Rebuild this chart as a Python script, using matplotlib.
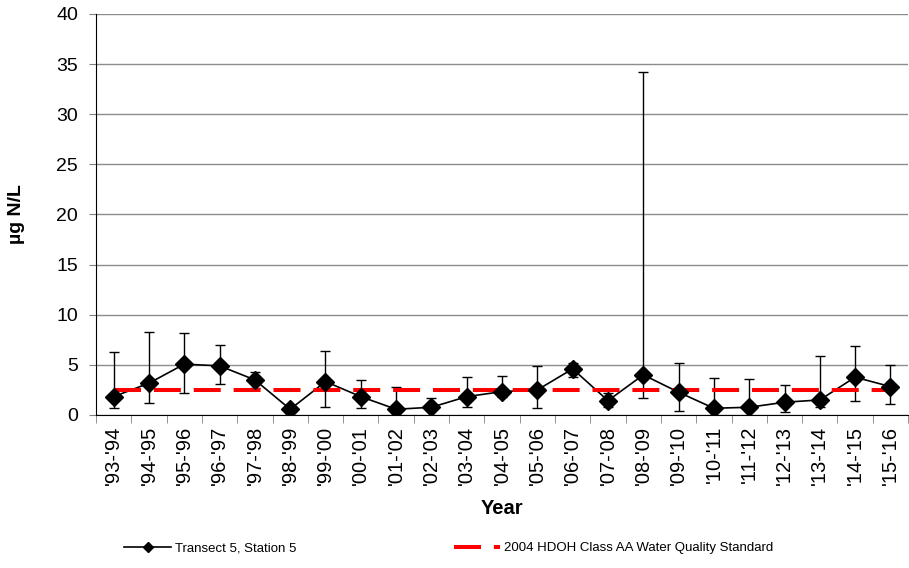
import numpy as np
import matplotlib.pyplot as plt
from matplotlib.lines import Line2D
from matplotlib.ticker import MultipleLocator, FixedLocator

plt.rcParams['font.family'] = ['Liberation Sans', 'DejaVu Sans']

years = ["'93-'94", "'94-'95", "'95-'96", "'96-'97", "'97-'98", "'98-'99",
         "'99-'00", "'00-'01", "'01-'02", "'02-'03", "'03-'04", "'04-'05",
         "'05-'06", "'06-'07", "'07-'08", "'08-'09", "'09-'10", "'10-'11",
         "'11-'12", "'12-'13", "'13-'14", "'14-'15", "'15-'16"]
vals = [1.83, 3.17, 5.07, 4.9, 3.5, 0.57, 3.33, 1.83, 0.57, 0.77, 1.83, 2.33,
        2.5, 4.6, 1.43, 4.0, 2.27, 0.67, 0.77, 1.27, 1.5, 3.77, 2.83]
lows = [0.67, 1.23, 2.23, 3.07, 2.7, 0.57, 0.83, 0.67, 0.45, 0.5, 0.77, 1.77,
        0.73, 3.8, 0.8, 1.73, 0.4, 0.35, 0.5, 0.27, 0.77, 1.4, 1.07]
highs = [6.33, 8.27, 8.17, 7.0, 4.33, 0.57, 6.43, 3.5, 2.77, 1.67, 3.77, 3.9,
         4.9, 5.2, 2.17, 34.2, 5.23, 3.67, 3.6, 3.0, 5.9, 6.9, 5.0]
standard = 2.5

x = np.arange(len(years))
v = np.array(vals)
yerr = [v - np.array(lows), np.array(highs) - v]

fig = plt.figure(figsize=(9.09, 5.68), dpi=100)
ax = fig.add_axes([0.1056, 0.2694, 0.8934, 0.706])

ax.errorbar(x, v, yerr=yerr, fmt='-', color='black', lw=1.2, elinewidth=1.0,
            capsize=3.5, capthick=1.0, zorder=2)
ax.plot(x, [standard] * len(x), color='#ff0000', lw=2.9, dashes=(6.7, 3.2),
        zorder=3)
ax.plot(x, v, 'D', color='black', ms=9, zorder=4)

ax.set_xlim(-0.5, len(x) - 0.5)
ax.set_ylim(0, 40)
ax.yaxis.set_major_locator(MultipleLocator(5))
ax.grid(axis='y', color='#8c8c8c', lw=1.0)
ax.set_axisbelow(True)

ax.set_xticks(x)
ax.set_xticklabels(years, rotation=90, fontsize=14.5)
ax.tick_params(axis='x', which='major', length=0, pad=8)
ax.xaxis.set_minor_locator(FixedLocator(np.arange(-0.5, len(x), 1.0)))
ax.tick_params(axis='x', which='minor', length=6, color='#808080')
ax.tick_params(axis='y', labelsize=14, length=5, color='#808080', pad=8)

for s in ['top', 'right']:
    ax.spines[s].set_visible(False)
ax.spines['left'].set_color('black')
ax.spines['bottom'].set_color('black')

ax.set_ylabel('µg N/L', fontsize=14, fontweight='bold')
ax.yaxis.set_label_coords(-0.087, 0.5)
ax.set_xlabel('Year', fontsize=14.5, fontweight='bold')
ax.xaxis.set_label_coords(0.5, -0.209)

handles = [Line2D([], [], color='black', lw=1.2, marker='D', ms=5),
           Line2D([], [], color='#ff0000', lw=2.9, dashes=(6.7, 3.2))]
fig.legend(handles, ['Transect 5, Station 5',
                     '2004 HDOH Class AA Water Quality Standard'],
           loc='center', bbox_to_anchor=(0.494, 0.035), ncol=2, frameon=False,
           fontsize=9.5, handlelength=3.5, handletextpad=0.3, columnspacing=12.0)

fig.savefig('out.png', dpi=100)
